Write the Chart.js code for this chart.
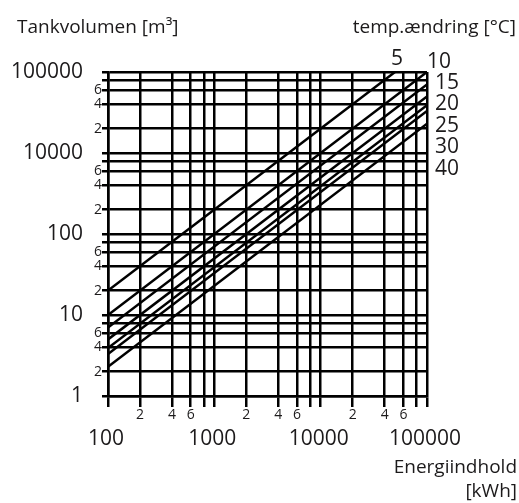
<!DOCTYPE html>
<html>
<head>
<meta charset="utf-8">
<style>
  html, body { margin: 0; padding: 0; background: #fff; }
</style>
<script src="https://cdn.jsdelivr.net/npm/chart.js@4.4.1/dist/chart.umd.min.js"></script>
</head>
<body>
<canvas id="chart" width="519" height="503"></canvas>
<script>
// temperature change (°C), one line per value
const tempDiffs = [5, 10, 15, 20, 25, 30, 40];
// energy content at the two ends of every line (kWh)
const energyEnds = [100, 100000];
// tank volume (m³) at 100 kWh and at 100000 kWh
const volumeLow = [20, 10, 7, 5, 3.9, 3.3, 2.3];
const volumeHigh = [20000, 10000, 7000, 5000, 3900, 3300, 2300];

// grid lines
const xTicks = [100, 200, 400, 600, 800, 1000, 2000, 4000, 6000, 8000, 10000,
    20000, 40000, 60000, 80000, 100000];
const yTicks = [1, 2, 4, 6, 8, 10, 20, 40, 60, 80, 100, 200, 400, 600, 800,
    1000, 2000, 4000, 6000, 8000, 10000];

// decade labels, as printed in the original (y labels included)
const xDecades = [100, 1000, 10000, 100000];
const xDecadeLabels = ['100', '1000', '10000', '100000'];
const yDecades = [1, 10, 100, 1000, 10000];
const yDecadeLabels = ['1', '10', '100', '10000', '100000'];
const minorLabels = ['2', '4', '6'];

const FONT = '"Open Sans", sans-serif';
const TEXT = '#1c1a1b';

function minorText(v) {
    const m = Math.round(v / Math.pow(10, Math.floor(Math.log10(v) + 1e-9)));
    const s = String(m);
    return minorLabels.includes(s) ? s : null;
}

const labelPlugin = {
    id: 'labels',
    afterDraw(chart) {
        const ctx = chart.ctx;
        const xs = chart.scales.x;
        const ys = chart.scales.y;
        const area = chart.chartArea;
        ctx.save();
        ctx.fillStyle = TEXT;
        ctx.textBaseline = 'middle';

        // y axis
        ctx.textAlign = 'right';
        ctx.font = '14px ' + FONT;
        yTicks.forEach(v => {
            const t = minorText(v);
            if (t) ctx.fillText(t, area.left - 6, ys.getPixelForValue(v));
        });
        ctx.font = '21px ' + FONT;
        yDecades.forEach((v, i) => {
            ctx.fillText(yDecadeLabels[i], 83, ys.getPixelForValue(v));
        });

        // x axis
        ctx.textAlign = 'center';
        ctx.font = '14px ' + FONT;
        xTicks.forEach(v => {
            const t = minorText(v);
            if (t) ctx.fillText(t, xs.getPixelForValue(v), area.bottom + 19);
        });
        ctx.font = '21px ' + FONT;
        xDecades.forEach((v, i) => {
            ctx.fillText(xDecadeLabels[i], xs.getPixelForValue(v) - 2, area.bottom + 43);
        });

        // line labels
        ctx.font = '21px ' + FONT;
        const l0 = Math.log10(energyEnds[0]), l1 = Math.log10(energyEnds[1]);
        const v0 = Math.log10(volumeLow[0]), v1 = Math.log10(volumeHigh[0]);
        const eTop = Math.pow(10, l0 + (Math.log10(ys.max) - v0) * (l1 - l0) / (v1 - v0));
        ctx.fillText(String(tempDiffs[0]), xs.getPixelForValue(eTop) + 2, area.top - 13);
        ctx.fillText(String(tempDiffs[1]), area.right + 12, area.top - 10);
        tempDiffs.slice(2).forEach((t, i) => {
            ctx.fillText(String(t), area.right + 20, area.top + 11 + i * 21.5);
        });

        // axis titles
        ctx.font = '19px ' + FONT;
        ctx.textAlign = 'left';
        ctx.fillText('Tankvolumen [m³]', 17, 28);
        ctx.textAlign = 'right';
        ctx.fillText('temp.ændring [°C]', 516, 28);
        ctx.fillText('Energiindhold', 517, 468);
        ctx.fillText('[kWh]', 517, 492);
        ctx.restore();
    }
};

const gridStyle = { color: '#000', lineWidth: 2.5, drawTicks: true };
const borderStyle = { display: true, color: '#000', width: 2.5 };

new Chart(document.getElementById('chart'), {
    type: 'line',
    data: {
        datasets: tempDiffs.map((t, i) => ({
            label: t + ' °C',
            data: [
                { x: energyEnds[0], y: volumeLow[i] },
                { x: energyEnds[1], y: volumeHigh[i] },
            ],
            borderColor: '#000',
            borderWidth: 2.5,
            pointRadius: 0,
            fill: false,
            tension: 0,
        })),
    },
    options: {
        responsive: false,
        animation: false,
        devicePixelRatio: 1,
        layout: { padding: { left: 0, top: 72, right: 92, bottom: 96 } },
        plugins: { legend: { display: false }, tooltip: { enabled: false } },
        scales: {
            x: {
                type: 'logarithmic',
                min: 100,
                max: 100000,
                afterBuildTicks: s => { s.ticks = xTicks.map(v => ({ value: v })); },
                afterFit: s => { s.height = 11; },
                ticks: { display: false },
                grid: { ...gridStyle, tickLength: 11 },
                border: borderStyle,
            },
            y: {
                type: 'logarithmic',
                min: 1,
                max: 10000,
                afterBuildTicks: s => { s.ticks = yTicks.map(v => ({ value: v })); },
                afterFit: s => { s.width = 108; },
                ticks: { display: false },
                grid: { ...gridStyle, tickLength: 6 },
                border: borderStyle,
            },
        },
    },
    plugins: [labelPlugin],
});
</script>
</body>
</html>
